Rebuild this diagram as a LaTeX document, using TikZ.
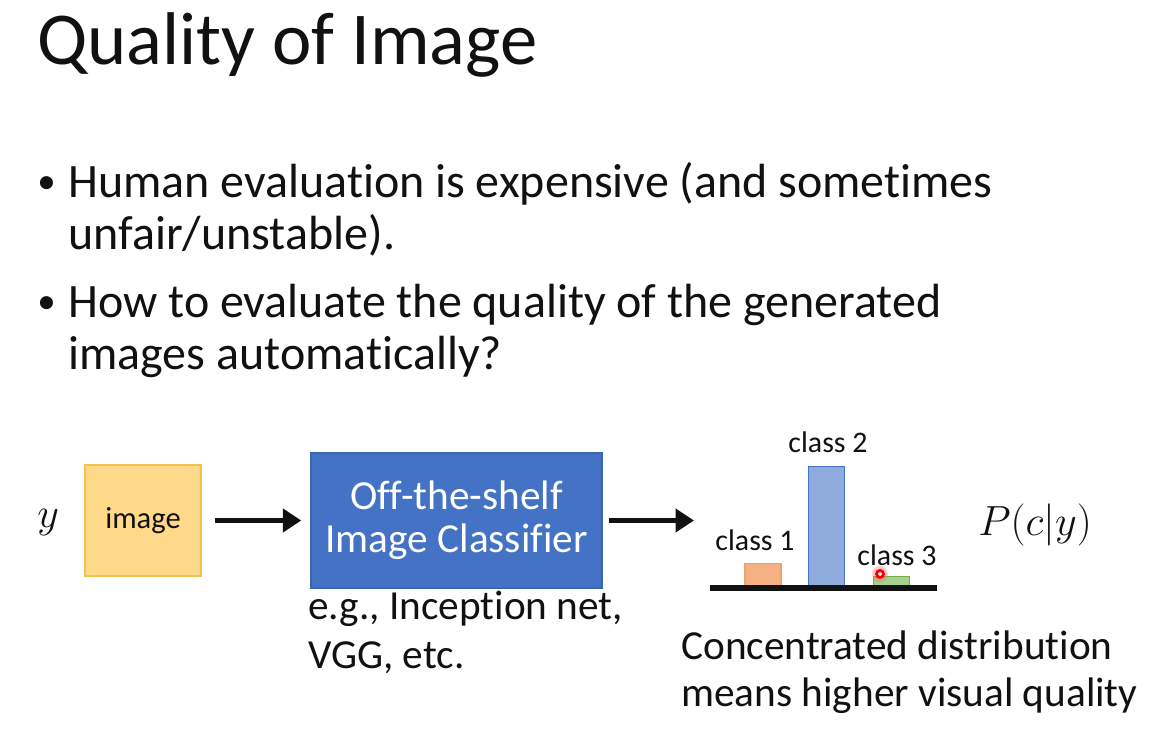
\RequirePackage{fix-cm}
\documentclass[tikz,border=0pt]{standalone}
\usepackage{fontspec}
\setmainfont{Carlito}[Ligatures=CommonOff]
\usetikzlibrary{arrows.meta,positioning}
\definecolor{ctext}{HTML}{111111}
\definecolor{cimgfill}{HTML}{FFD98A}
\definecolor{cimgborder}{HTML}{F4C14F}
\definecolor{cclf}{HTML}{4472C4}
\definecolor{cclfborder}{HTML}{3A65B0}
\definecolor{cbarone}{HTML}{F4B183}
\definecolor{cbaroneborder}{HTML}{EFA270}
\definecolor{cbartwo}{HTML}{8FAADC}
\definecolor{cbartwoborder}{HTML}{4472C4}
\definecolor{cbarthree}{HTML}{A9D18E}
\definecolor{cbarthreeborder}{HTML}{70AD47}

\begin{document}
\begin{tikzpicture}[
    x=0.02cm, y=-0.02cm,
    text=ctext,
    titletext/.style={anchor=base west, inner sep=0pt, font=\fontsize{42.5}{50}\selectfont},
    bullettext/.style={anchor=base west, inner sep=0pt, font=\fontsize{27.3}{32}\selectfont},
    bulletdot/.style={anchor=base west, inner sep=0pt, font=\fontsize{21}{25}\selectfont},
    bodytext/.style={anchor=base west, inner sep=0pt, font=\fontsize{23.5}{28}\selectfont},
    mathtext/.style={anchor=base west, inner sep=0pt, font=\fontsize{24}{28}\selectfont},
    classlabel/.style={anchor=base, inner sep=0pt, font=\fontsize{17}{20}\selectfont},
    bigarrow/.style={-{Triangle[length=10.5pt,width=13pt]}, line width=3.4pt, ctext},
    bar/.style={anchor=south, minimum width=0.72cm, inner sep=0pt, line width=0.6pt},
]

% background and page size
\fill[white] (0,0) rectangle (1159,756);
\useasboundingbox (0,0) rectangle (1159,756);

% ============================================================
% TITLE AND BULLETS
% ============================================================
\node[titletext] (title) at (37,65) {Quality of Image};

\node[bulletdot] (dot1) at (37,194) {\textbullet};
\node[bullettext] (b1l1) at (68,198) {Human evaluation is expensive (and sometimes};
\node[bullettext] (b1l2) at (68,250) {unfair/unstable).};

\node[bulletdot] (dot2) at (37,314) {\textbullet};
\node[bullettext] (b2l1) at (68,318) {How to evaluate the quality of the generated};
\node[bullettext] (b2l2) at (68,370) {images automatically?};

% ============================================================
% INPUT IMAGE
% ============================================================
\node[mathtext] (yvar) at (37,527) {$y$};

\node[draw=cimgborder, fill=cimgfill, line width=0.8pt,
    minimum width=2.32cm, minimum height=2.22cm, inner sep=0pt,
    font=\fontsize{17.4}{20}\selectfont] (img) at (143,520.5) {image};

% ============================================================
% CLASSIFIER
% ============================================================
\node[draw=cclfborder, fill=cclf, line width=0.8pt, text=white,
    minimum width=5.82cm, minimum height=2.7cm, inner sep=0pt,
    align=center, font=\fontsize{23.5}{24.6}\selectfont] (clf) at (456.5,520.5)
    {Off-the-shelf\\Image Classifier};
\draw[bigarrow, shorten <=0.26cm, shorten >=0.18cm] (img.east) -- (clf.west);

\node[bodytext] (eg1) at (308,619) {e.g., Inception net,};
\node[bodytext] (eg2) at (308,668) {VGG, etc.};

% ============================================================
% OUTPUT DISTRIBUTION
% ============================================================
\coordinate (distin) at (694,520.5);
\draw[bigarrow, shorten <=0.12cm] (clf.east) -- (distin);

\coordinate (axisl) at (710,588);
\coordinate (axisr) at (937,588);

\node[bar, draw=cbaroneborder, fill=cbarone, minimum height=0.44cm] (barone) at (763,586) {};
\node[bar, draw=cbartwoborder, fill=cbartwo, minimum height=2.38cm] (bartwo) at (826.5,586) {};
\node[bar, draw=cbarthreeborder, fill=cbarthree, minimum height=0.18cm] (barthree) at (891.5,586) {};
\draw[line width=3pt, ctext] (axisl) -- (axisr);

\node[classlabel] (lblone) at (755,550) {class 1};
\node[classlabel] (lbltwo) at (828,453) {class 2};
\node[classlabel] (lblthree) at (897,565) {class 3};

% pointer
\coordinate (pointer) at (880,574);
\fill[red!60, opacity=0.35] (pointer) circle (8);
\draw[red, line width=1.6pt, fill=white] (pointer) circle (3.5);

\node[mathtext] (pcy) at (978,535) {$P(c|y)$};

\node[bodytext] (conc1) at (681,659) {Concentrated distribution};
\node[bodytext] (conc2) at (681,706) {means higher visual quality};

\end{tikzpicture}
\end{document}
